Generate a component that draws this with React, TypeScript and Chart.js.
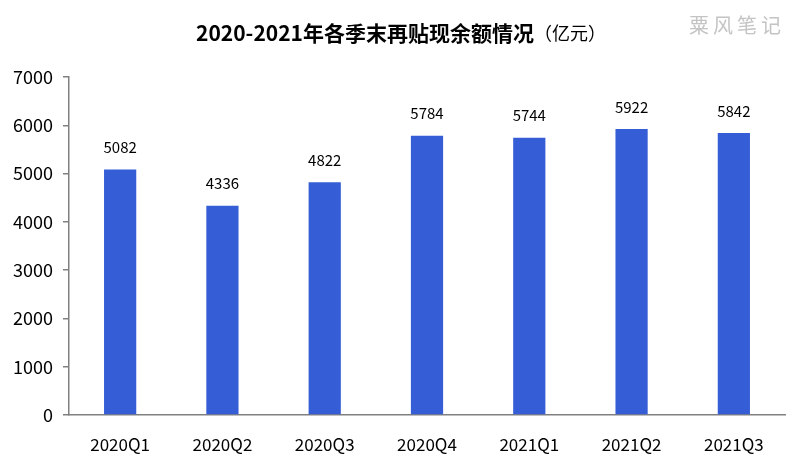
import React, { useEffect, useRef } from "react";
import { Chart, registerables } from "chart.js";

Chart.register(...registerables);

const categories = ["2020Q1", "2020Q2", "2020Q3", "2020Q4", "2021Q1", "2021Q2", "2021Q3"];
const balances = [5082, 4336, 4822, 5784, 5744, 5922, 5842];
const yTicks = [0, 1000, 2000, 3000, 4000, 5000, 6000, 7000];
const titleMain = "2020-2021年各季末再贴现余额情况";
const titleUnit = "（亿元）";
const watermark = "粟风笔记";

const FONT = '"Noto Sans CJK SC", "Noto Sans", sans-serif';

const overlayPlugin = {
  id: "overlay",
  afterDatasetsDraw(chart: any) {
    const ctx = chart.ctx;
    const meta = chart.getDatasetMeta(0);
    ctx.save();
    ctx.fillStyle = "#000";
    ctx.font = `15px ${FONT}`;
    ctx.textAlign = "center";
    ctx.textBaseline = "middle";
    meta.data.forEach((bar: any, i: number) => {
      ctx.fillText(String(balances[i]), bar.x, bar.y - 22);
    });
    ctx.restore();
  },
  afterDraw(chart: any) {
    const ctx = chart.ctx;
    ctx.save();
    ctx.textBaseline = "middle";
    ctx.textAlign = "left";
    const boldFont = `bold 21px ${FONT}`;
    const normFont = `18px ${FONT}`;
    ctx.font = boldFont;
    const w1 = ctx.measureText(titleMain).width;
    ctx.font = normFont;
    const w2 = ctx.measureText(titleUnit).width;
    const start = 401 - (w1 + w2) / 2;
    ctx.fillStyle = "#000";
    ctx.font = boldFont;
    ctx.fillText(titleMain, start, 33);
    ctx.font = normFont;
    ctx.fillText(titleUnit, start + w1, 33);
    ctx.font = `20px ${FONT}`;
    ctx.fillStyle = "#c4c4c4";
    ctx.textAlign = "center";
    ctx.fillText(watermark.split("").join("\u2009"), 735, 25);
    ctx.restore();
  },
};

export default function App() {
  const ref = useRef<HTMLCanvasElement | null>(null);
  useEffect(() => {
    document.body.style.margin = "0";
    if (!ref.current) return;
    const chart = new Chart(ref.current, {
      type: "bar",
      data: {
        labels: categories,
        datasets: [
          {
            data: balances,
            backgroundColor: "#355ED6",
            categoryPercentage: 1,
            barPercentage: 0.315,
          },
        ],
      },
      options: {
        animation: false,
        responsive: false,
        maintainAspectRatio: false,
        layout: { padding: { left: 0, right: 23, top: 77, bottom: 0 } },
        plugins: {
          legend: { display: false },
          title: { display: false },
          tooltip: { enabled: false },
        },
        scales: {
          x: {
            grid: { display: false },
            border: { color: "#808080", width: 1.5 },
            ticks: {
              color: "#000",
              font: { family: FONT, size: 17 },
              padding: 11,
            },
            afterFit(scale: any) {
              scale.height = 49;
            },
          },
          y: {
            min: 0,
            max: 7000,
            afterBuildTicks(scale: any) {
              scale.ticks = yTicks.map((v) => ({ value: v }));
            },
            grid: {
              display: true,
              drawOnChartArea: false,
              drawTicks: true,
              tickLength: 6,
              color: "#808080",
              lineWidth: 1.5,
            },
            border: { color: "#808080", width: 1.5 },
            ticks: {
              color: "#000",
              font: { family: FONT, size: 18 },
              padding: 10,
              callback: (v: any) => String(v),
            },
            afterFit(scale: any) {
              scale.width = 69;
            },
          },
        },
      },
      plugins: [overlayPlugin],
    });
    return () => chart.destroy();
  }, []);
  return (
    <div style={{ width: 808, height: 464, background: "#fff" }}>
      <canvas ref={ref} width={808} height={464} style={{ width: 808, height: 464, display: "block" }} />
    </div>
  );
}
